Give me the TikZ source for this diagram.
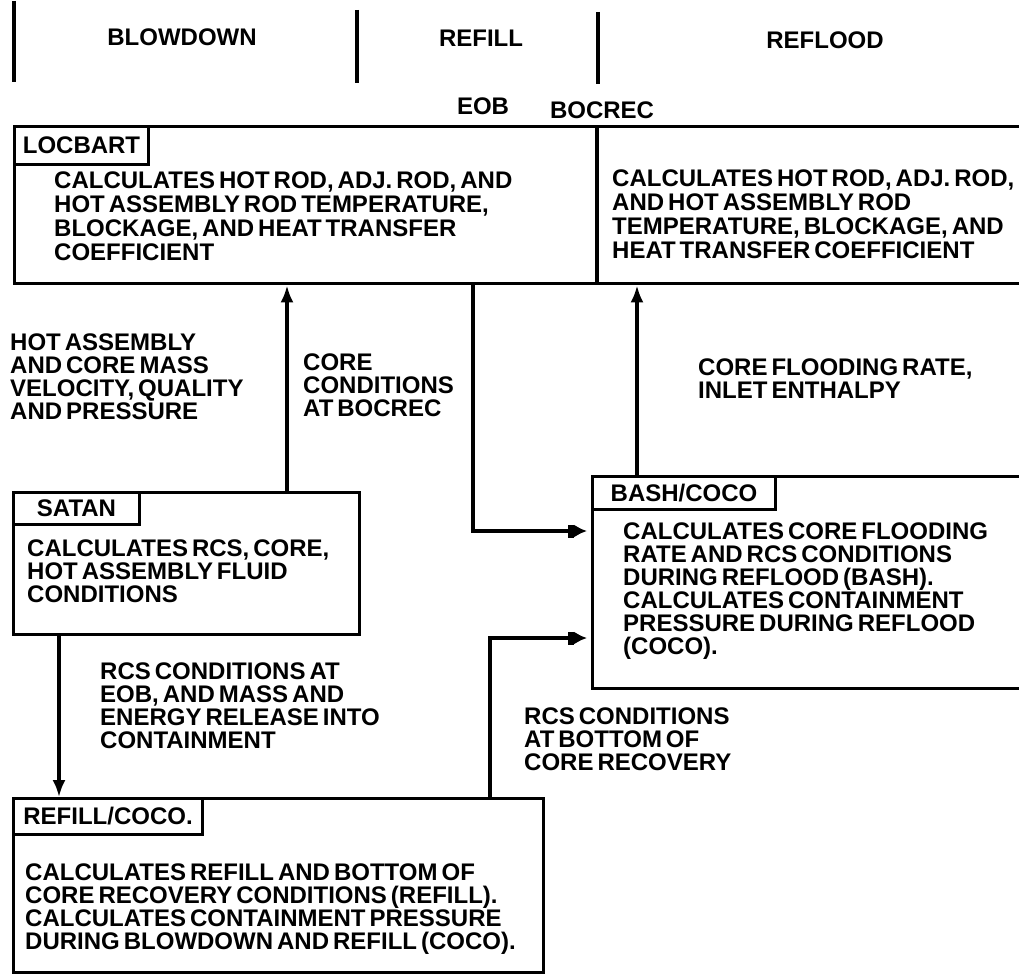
\documentclass[tikz,border=0pt]{standalone}
\usepackage{fontspec}
\setmainfont{Liberation Sans}[WordSpace=0.6]
\usetikzlibrary{arrows.meta, positioning}

\newcommand{\chartfont}{\bfseries\fontsize{24}{23}\selectfont}

\tikzset{
  txt/.style={inner sep=0pt, font=\chartfont},
  body/.style={txt, anchor=north west, align=left},
  progbox/.style={draw, line width=3.4pt, inner sep=0pt, anchor=north west},
  tagbox/.style={progbox, line width=3pt, txt},
  wire/.style={line width=3.2pt},
  feed/.style={wire, -{Latex[length=17pt,width=13pt]}},
  feedin/.style={wire, -{Rectangle[length=6pt,width=13pt] Latex[length=13pt,width=13pt]}, shorten >=4pt},
}

\begin{document}
\begin{tikzpicture}[x=1pt, y=-1pt]
\useasboundingbox (0,0) rectangle (1019,974);
\clip (0,0) rectangle (1019,974);

	% Phases
\draw [wire] (14,1) -- (14,82);
\draw [wire] (357,10) -- (357,83);
\draw [wire] (598,12) -- (598,84);
\node [txt] (blowdown) at (182,37) {BLOWDOWN};
\node [txt] (refill phase) at (481,38) {REFILL};
\node [txt] (reflood) at (825,40) {REFLOOD};
\node [txt] (eob) at (483,106) {EOB};
\node [txt] (bocrec) at (602,110) {BOCREC};

	% LOCBART
\node [progbox, minimum width=1030pt, minimum height=157pt] (locbart) at (13,125) {};
\node [tagbox, minimum width=134pt, minimum height=38pt] (locbart tag) at (locbart.north west) {LOCBART};
\coordinate (split) at (597,0);
\draw [wire] (split |- locbart.north) -- (split |- locbart.south);
\node [body, font=\bfseries\fontsize{24}{24}\selectfont] (locbart left) at (54,172) {CALCULATES HOT ROD, ADJ. ROD, AND\\HOT ASSEMBLY ROD TEMPERATURE,\\BLOCKAGE, AND HEAT TRANSFER\\COEFFICIENT};
\node [body, font=\bfseries\fontsize{24}{24}\selectfont] (locbart right) at (612,170) {CALCULATES HOT ROD, ADJ. ROD,\\AND HOT ASSEMBLY ROD\\TEMPERATURE, BLOCKAGE, AND\\HEAT TRANSFER COEFFICIENT};

	% SATAN
\node [progbox, minimum width=346pt, minimum height=142pt] (satan) at (12,491) {};
\node [tagbox, minimum width=126pt, minimum height=32pt] (satan tag) at (satan.north west) {SATAN};
\node [body] (satan text) at (27,540) {CALCULATES RCS, CORE,\\HOT ASSEMBLY FLUID\\CONDITIONS};

	% BASH/COCO
\node [progbox, minimum width=450pt, minimum height=212pt] (bash) at (591,475) {};
\node [tagbox, minimum width=183pt, minimum height=33pt] (bash tag) at (bash.north west) {BASH/COCO};
\node [body] (bash text) at (623,523) {CALCULATES CORE FLOODING\\RATE AND RCS CONDITIONS\\DURING REFLOOD (BASH).\\CALCULATES CONTAINMENT\\PRESSURE DURING REFLOOD\\(COCO).};

	% REFILL/COCO
\node [progbox, minimum width=530pt, minimum height=174pt] (refill) at (12,797) {};
\node [tagbox, minimum width=189pt, minimum height=36pt] (refill tag) at (refill.north west) {REFILL/COCO.};
\node [body] (refill text) at (25,864) {CALCULATES REFILL AND BOTTOM OF\\CORE RECOVERY CONDITIONS (REFILL).\\CALCULATES CONTAINMENT PRESSURE\\DURING BLOWDOWN AND REFILL (COCO).};

	% Flow labels
\node [body] (hot flow) at (10,334) {HOT ASSEMBLY\\AND CORE MASS\\VELOCITY, QUALITY\\AND PRESSURE};
\node [body] (core cond) at (303,354) {CORE\\CONDITIONS\\AT BOCREC};
\node [body] (flood rate) at (698,359) {CORE FLOODING RATE,\\INLET ENTHALPY};
\node [body] (eob release) at (100,663) {RCS CONDITIONS AT\\EOB, AND MASS AND\\ENERGY RELEASE INTO\\CONTAINMENT};
\node [body] (bocrec cond) at (524,708) {RCS CONDITIONS\\AT BOTTOM OF\\CORE RECOVERY};

	% Connections
\coordinate (upA) at (287,0);
\coordinate (downB) at (473,531);
\coordinate (upC) at (637,0);
\coordinate (downD) at (59,0);
\coordinate (upE) at (490,638);
\draw [feed] (upA |- satan.north) -- (upA |- locbart.south);
\draw [feedin] (downB |- locbart.south) |- (bash.west |- downB);
\draw [feed] (upC |- bash.north) -- (upC |- locbart.south);
\draw [feed] (downD |- satan.south) -- (downD |- refill.north);
\draw [feedin] (upE |- refill.north) |- (bash.west |- upE);
\end{tikzpicture}
\end{document}
